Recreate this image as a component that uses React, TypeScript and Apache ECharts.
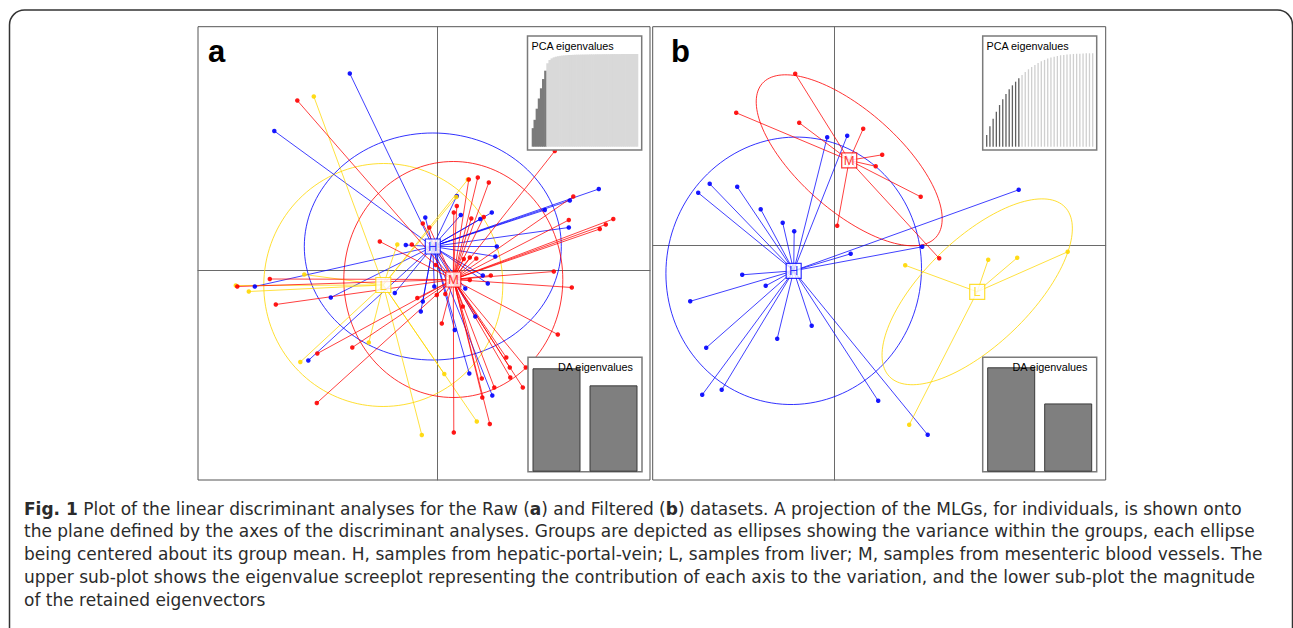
import React, { useEffect, useRef } from 'react';
import * as echarts from 'echarts';

// ---------- groups ----------
const groups = ['H', 'L', 'M'];
const groupColors: Record<string, string> = { H: '#0000FF', L: '#FFD700', M: '#FF0000' };

// ---------- Panel a (Raw) : discriminant scores ----------
const rawH = [
  [-1.75, 3.93], [-3.26, 2.78], [3.23, 1.62], [2.65, 1.39], [2.15, 1.2], [2.63, 0.85], [-0.24, 1.05],
  [0.39, 1.48], [0.47, 1.1], [0.86, 1.02], [1.09, 1.15], [1.19, 0.47], [1.16, 0.27], [0.91, -0.11],
  [1.01, -0.27], [0.56, -0.37], [-0.06, -0.33], [-0.63, 0.5], [-0.29, -0.63], [-0.33, -0.83],
  [-3.65, -0.33], [-2.13, -0.55], [-0.85, -0.46], [-2.58, -1.81], [0.35, -1.2], [0.76, -0.93],
  [0.64, -2.07], [1.1, -2.51],
];
const rawM = [
  [-2.8, 3.39], [2.35, 2.38], [0.63, 1.81], [0.81, 1.85], [1.03, 1.75], [0.39, 1.28], [0.33, 1.15],
  [0.68, 1.03], [0.93, 1.06], [-0.29, 0.93], [-0.16, 0.85], [2.72, 1.47], [2.63, 1.0], [3.52, 1.02],
  [3.37, 0.91], [3.25, 0.82], [2.33, -0.03], [2.69, -0.35], [0.65, 0.25], [0.78, 0.23], [0.53, 0.22],
  [1.07, -0.11], [0.65, -0.2], [0.41, -0.3], [-0.01, -0.5], [0.16, -0.48], [-0.4, -0.56], [-1.15, 0.57],
  [-0.51, 0.51], [-4.0, -0.33], [-3.35, -0.18], [-3.23, -0.69], [-2.4, -1.67], [-1.7, -1.55],
  [-2.41, -2.66], [0.09, -1.07], [0.51, -0.73], [2.41, -1.29], [1.38, -1.75], [1.45, -1.95],
  [1.46, -2.15], [1.14, -2.35], [1.71, -2.35], [1.77, -1.95], [0.9, -2.55], [1.05, -3.08],
  [0.33, -3.25], [0.89, -2.17], [-0.03, 0.1],
];
const rawL = [
  [-2.47, 3.47], [0.61, 1.81], [0.38, 1.46], [-0.8, 0.51], [-4.03, -0.31], [-3.77, -0.43],
  [-2.66, -0.09], [-2.74, -1.84], [-1.37, -1.45], [-0.31, -3.3], [0.14, -2.08], [0.79, -3.03],
];
const rawCentroidH = [-0.09, 0.47];
const rawCentroidL = [-1.08, -0.3];
const rawCentroidM = [0.32, -0.19];
// ellipse: [radius along axis 1, radius along axis 2, rotation in degrees]
const rawEllipseH = [2.57, 2.27, 0];
const rawEllipseL = [2.39, 2.43, -5];
const rawEllipseM = [2.19, 2.36, 0];
const rawPcaEigen = [
  0.2, 0.29, 0.41, 0.52, 0.63, 0.73, 0.82, 0.9, 0.935, 0.953, 0.964, 0.971, 0.976, 0.98, 0.983, 0.985,
  0.987, 0.989, 0.99, 0.991, 0.992, 0.993, 0.993, 0.994, 0.994, 0.995, 0.995, 0.996, 0.996, 0.996,
  0.997, 0.997, 0.997, 0.998, 0.998, 0.998, 0.998, 0.999, 0.999, 0.999, 0.999, 0.999, 1, 1, 1, 1, 1, 1, 1, 1,
];
const rawPcaRetained = 7;
const rawDaEigen = [10.3, 8.6];

// ---------- Panel b (Filtered) ----------
const filtH = [
  [-0.15, 2.16], [0.25, 2.19], [-2.73, 1.05], [-2.5, 1.23], [-1.95, 1.17], [-1.48, 0.72], [-1.04, 0.45],
  [-0.81, 0.28], [-1.85, -0.59], [-1.38, -0.81], [-2.89, -1.12], [-2.57, -2.05], [-2.65, -2.99],
  [-2.26, -2.89], [-1.15, -1.87], [-0.46, -1.61], [0.87, -3.11], [1.86, -3.79], [0.32, -0.17],
  [1.75, -0.03], [3.68, 1.11],
];
const filtM = [
  [-0.79, 3.43], [-1.97, 2.65], [-0.71, 2.45], [0.57, 2.33], [0.95, 1.81], [0.82, 1.58], [1.72, 0.97],
  [0.05, 0.39], [2.09, -0.26],
];
const filtL = [[1.41, -0.4], [3.07, -0.29], [3.65, -0.25], [4.66, -0.13], [1.49, -3.59]];
const filtCentroidH = [-0.82, -0.51];
const filtCentroidL = [2.85, -0.93];
const filtCentroidM = [0.29, 1.7];
const filtEllipseH = [2.55, 2.68, -12];
const filtEllipseL = [2.44, 1.06, 44];
const filtEllipseM = [2.32, 1.0, -41.5];
const filtPcaEigen = [
  0.125, 0.22, 0.3, 0.375, 0.446, 0.507, 0.564, 0.614, 0.657, 0.696, 0.732, 0.768, 0.8, 0.829, 0.854,
  0.875, 0.896, 0.914, 0.929, 0.943, 0.954, 0.964, 0.971, 0.979, 0.982, 0.986, 0.989, 0.993, 0.995,
  0.996, 0.998, 1, 1, 1,
];
const filtPcaRetained = 11;
const filtDaEigen = [10.4, 6.8];

// ---------- caption ----------
const captionLines = [
  '{b|Fig. 1} Plot of the linear discriminant analyses for the Raw ({b|a}) and Filtered ({b|b}) datasets. A projection of the MLGs, for individuals, is shown onto',
  'the plane defined by the axes of the discriminant analyses. Groups are depicted as ellipses showing the variance within the groups, each ellipse',
  'being centered about its group mean. H, samples from hepatic-portal-vein; L, samples from liver; M, samples from mesenteric blood vessels. The',
  'upper sub-plot shows the eigenvalue screeplot representing the contribution of each axis to the variation, and the lower sub-plot the magnitude',
  'of the retained eigenvectors',
];

const SANS = '"Liberation Sans", Arial, Helvetica, sans-serif';
const CAPTION_FONT = '"DejaVu Sans", "Open Sans", sans-serif';
const CAPTION_SIZE = 17;

function panelSeries(
  gi: number,
  pts: Record<string, number[][]>,
  cents: Record<string, number[]>,
  ells: Record<string, number[]>
) {
  const out: any[] = [];
  groups.forEach((g) => {
    const color = groupColors[g];
    out.push({
      type: 'custom',
      xAxisIndex: gi,
      yAxisIndex: gi,
      silent: true,
      z: 1,
      dimensions: ['x', 'y', 'rx', 'ry', 'ang'],
      encode: { x: 0, y: 1 },
      data: [[cents[g][0], cents[g][1], ells[g][0], ells[g][1], ells[g][2]]],
      renderItem: (params: any, api: any) => {
        const cx = api.value(0);
        const cy = api.value(1);
        const rx = api.value(2);
        const ry = api.value(3);
        const a = (api.value(4) * Math.PI) / 180;
        const points: number[][] = [];
        for (let k = 0; k <= 144; k++) {
          const t = (k / 144) * Math.PI * 2;
          const ex = rx * Math.cos(t);
          const ey = ry * Math.sin(t);
          points.push(api.coord([cx + ex * Math.cos(a) - ey * Math.sin(a), cy + ex * Math.sin(a) + ey * Math.cos(a)]));
        }
        return {
          type: 'polyline',
          shape: { points },
          style: { stroke: color, fill: 'none', lineWidth: 1, opacity: 0.8 },
        };
      },
    });
  });
  groups.forEach((g) => {
    out.push({
      type: 'lines',
      coordinateSystem: 'cartesian2d',
      xAxisIndex: gi,
      yAxisIndex: gi,
      silent: true,
      z: 2,
      data: pts[g].map((p) => ({ coords: [p, cents[g]] })),
      lineStyle: { color: groupColors[g], width: 1, opacity: 0.75, curveness: 0 },
    });
  });
  groups.forEach((g) => {
    out.push({
      type: 'scatter',
      xAxisIndex: gi,
      yAxisIndex: gi,
      silent: true,
      z: 3,
      symbol: 'circle',
      symbolSize: 4.5,
      data: pts[g],
      itemStyle: { color: groupColors[g], opacity: 0.9 },
    });
  });
  out.push({
    type: 'scatter',
    xAxisIndex: gi,
    yAxisIndex: gi,
    silent: true,
    z: 4,
    symbol: 'rect',
    symbolSize: 15,
    data: groups.map((g) => ({
      value: cents[g],
      itemStyle: { color: '#ffffff', borderColor: groupColors[g], borderWidth: 1.2 },
      label: { formatter: g, color: groupColors[g] },
    })),
    label: { show: true, position: 'inside', fontSize: 13, fontFamily: SANS },
  });
  return out;
}

function mainAxes(gi: number, xr: number[], yr: number[]) {
  const hidden = { axisTick: { show: false }, axisLabel: { show: false }, splitLine: { show: false } };
  return {
    x: {
      type: 'value', gridIndex: gi, min: xr[0], max: xr[1],
      axisLine: { show: true, onZero: true, lineStyle: { color: '#6a6a6a', width: 1 } }, ...hidden,
    },
    y: {
      type: 'value', gridIndex: gi, min: yr[0], max: yr[1],
      axisLine: { show: true, onZero: true, lineStyle: { color: '#6a6a6a', width: 1 } }, ...hidden,
    },
  };
}

function insetAxes(gi: number, n: number, yMax: any) {
  return {
    x: { type: 'category', gridIndex: gi, data: Array.from({ length: n }, (_, i) => String(i + 1)), show: false, boundaryGap: true },
    y: { type: 'value', gridIndex: gi, min: 0, max: yMax, show: false, splitLine: { show: false } },
  };
}

function buildOption() {
  const gridA = { left: 198, top: 26.7, width: 452, height: 453.3, show: true, borderColor: '#555', borderWidth: 1, backgroundColor: 'transparent' };
  const gridB = { left: 652.7, top: 26.7, width: 453, height: 453.3, show: true, borderColor: '#555', borderWidth: 1, backgroundColor: 'transparent' };
  const gridPcaA = { left: 531.7, top: 54, width: 106.6, height: 92.7 };
  const gridPcaB = { left: 985.1, top: 53.3, width: 109.2, height: 93.4 };
  const gridDaA = { left: 528, top: 368.3, width: 114, height: 103.4 };
  const gridDaB = { left: 982.7, top: 367.3, width: 114, height: 104.4 };

  const axA = mainAxes(0, [-4.786, 4.254], [-4.2, 4.866]);
  const axB = mainAxes(1, [-3.64, 5.42], [-4.694, 4.372]);
  const axPA = insetAxes(2, rawPcaEigen.length, 1);
  const axPB = insetAxes(3, filtPcaEigen.length, 1);
  const axDA = insetAxes(4, rawDaEigen.length, 'dataMax');
  const axDB = insetAxes(5, filtDaEigen.length, 'dataMax');

  const series: any[] = [
    ...panelSeries(0, { H: rawH, L: rawL, M: rawM }, { H: rawCentroidH, L: rawCentroidL, M: rawCentroidM }, { H: rawEllipseH, L: rawEllipseL, M: rawEllipseM }),
    ...panelSeries(1, { H: filtH, L: filtL, M: filtM }, { H: filtCentroidH, L: filtCentroidL, M: filtCentroidM }, { H: filtEllipseH, L: filtEllipseL, M: filtEllipseM }),
    {
      type: 'bar', xAxisIndex: 2, yAxisIndex: 2, z: 60, silent: true, barWidth: 2.8, barGap: '-100%',
      data: rawPcaEigen.map((v, i) => ({ value: v, itemStyle: { color: i < rawPcaRetained ? '#7b7b7b' : '#d9d9d9' } })),
    },
    {
      type: 'bar', xAxisIndex: 3, yAxisIndex: 3, z: 60, silent: true, barWidth: 1.3,
      data: filtPcaEigen.map((v, i) => ({ value: v, itemStyle: { color: i < filtPcaRetained ? '#5e5e5e' : '#cfcfcf' } })),
    },
    {
      type: 'bar', xAxisIndex: 4, yAxisIndex: 4, z: 60, silent: true, barWidth: 48,
      data: rawDaEigen, itemStyle: { color: '#7f7f7f', borderColor: '#3a3a3a', borderWidth: 1 },
    },
    {
      type: 'bar', xAxisIndex: 5, yAxisIndex: 5, z: 60, silent: true, barWidth: 48,
      data: filtDaEigen, itemStyle: { color: '#7f7f7f', borderColor: '#3a3a3a', borderWidth: 1 },
    },
  ];

  const boxStyle = { fill: '#ffffff', stroke: '#7a7a7a', lineWidth: 1.5 };
  const txt = (text: string, x: number, y: number, size: number, align: string, extra: any = {}) => ({
    type: 'text', z: 70, silent: true,
    style: {
      text, x, y, fontSize: size, fontFamily: SANS, fill: '#000',
      align, textAlign: align, verticalAlign: 'middle', textVerticalAlign: 'middle', ...extra,
    },
  });

  const graphic: any[] = [
    { type: 'rect', z: 0, silent: true, shape: { x: 9.5, y: 10, width: 1283, height: 700, r: 15 }, style: { fill: 'none', stroke: '#333', lineWidth: 1.5 } },
    { type: 'rect', z: 50, silent: true, shape: { x: 527.5, y: 36, width: 114.2, height: 114 }, style: boxStyle },
    { type: 'rect', z: 50, silent: true, shape: { x: 982.7, y: 36, width: 114, height: 114 }, style: boxStyle },
    { type: 'rect', z: 50, silent: true, shape: { x: 528, y: 357.3, width: 114, height: 114.4 }, style: boxStyle },
    { type: 'rect', z: 50, silent: true, shape: { x: 982.7, y: 357.3, width: 114, height: 114.4 }, style: boxStyle },
    txt('PCA eigenvalues', 531.5, 45.5, 10.8, 'left'),
    txt('PCA eigenvalues', 986.5, 45.5, 10.8, 'left'),
    txt('DA eigenvalues', 633, 367, 10.8, 'right'),
    txt('DA eigenvalues', 1087.5, 367, 10.8, 'right'),
    txt('a', 208, 51, 31, 'left', { fontWeight: 'bold' }),
    txt('b', 671, 51, 31, 'left', { fontWeight: 'bold' }),
    ...captionLines.map((line, i) => ({
      type: 'text', z: 70, silent: true,
      style: {
        text: line, x: 24, y: 508.5 + i * 22.8, fontSize: CAPTION_SIZE, fontFamily: CAPTION_FONT, fill: '#2b2b2b',
        align: 'left', textAlign: 'left', verticalAlign: 'middle', textVerticalAlign: 'middle',
        rich: { b: { fontWeight: 'bold', fontSize: CAPTION_SIZE, fontFamily: CAPTION_FONT, fill: '#2b2b2b', color: '#2b2b2b' } },
      },
    })),
  ];

  return {
    animation: false,
    backgroundColor: '#ffffff',
    grid: [gridA, gridB, gridPcaA, gridPcaB, gridDaA, gridDaB],
    xAxis: [axA.x, axB.x, axPA.x, axPB.x, axDA.x, axDB.x],
    yAxis: [axA.y, axB.y, axPA.y, axPB.y, axDA.y, axDB.y],
    series,
    graphic,
  };
}

export default function App() {
  const ref = useRef<HTMLDivElement>(null);
  useEffect(() => {
    if (!ref.current) return;
    const chart = echarts.init(ref.current, null, { renderer: 'svg', width: 1293, height: 628 });
    chart.setOption(buildOption() as any);
    return () => chart.dispose();
  }, []);
  return <div ref={ref} style={{ position: 'fixed', left: 0, top: 0, width: 1293, height: 628, background: '#fff' }} />;
}
